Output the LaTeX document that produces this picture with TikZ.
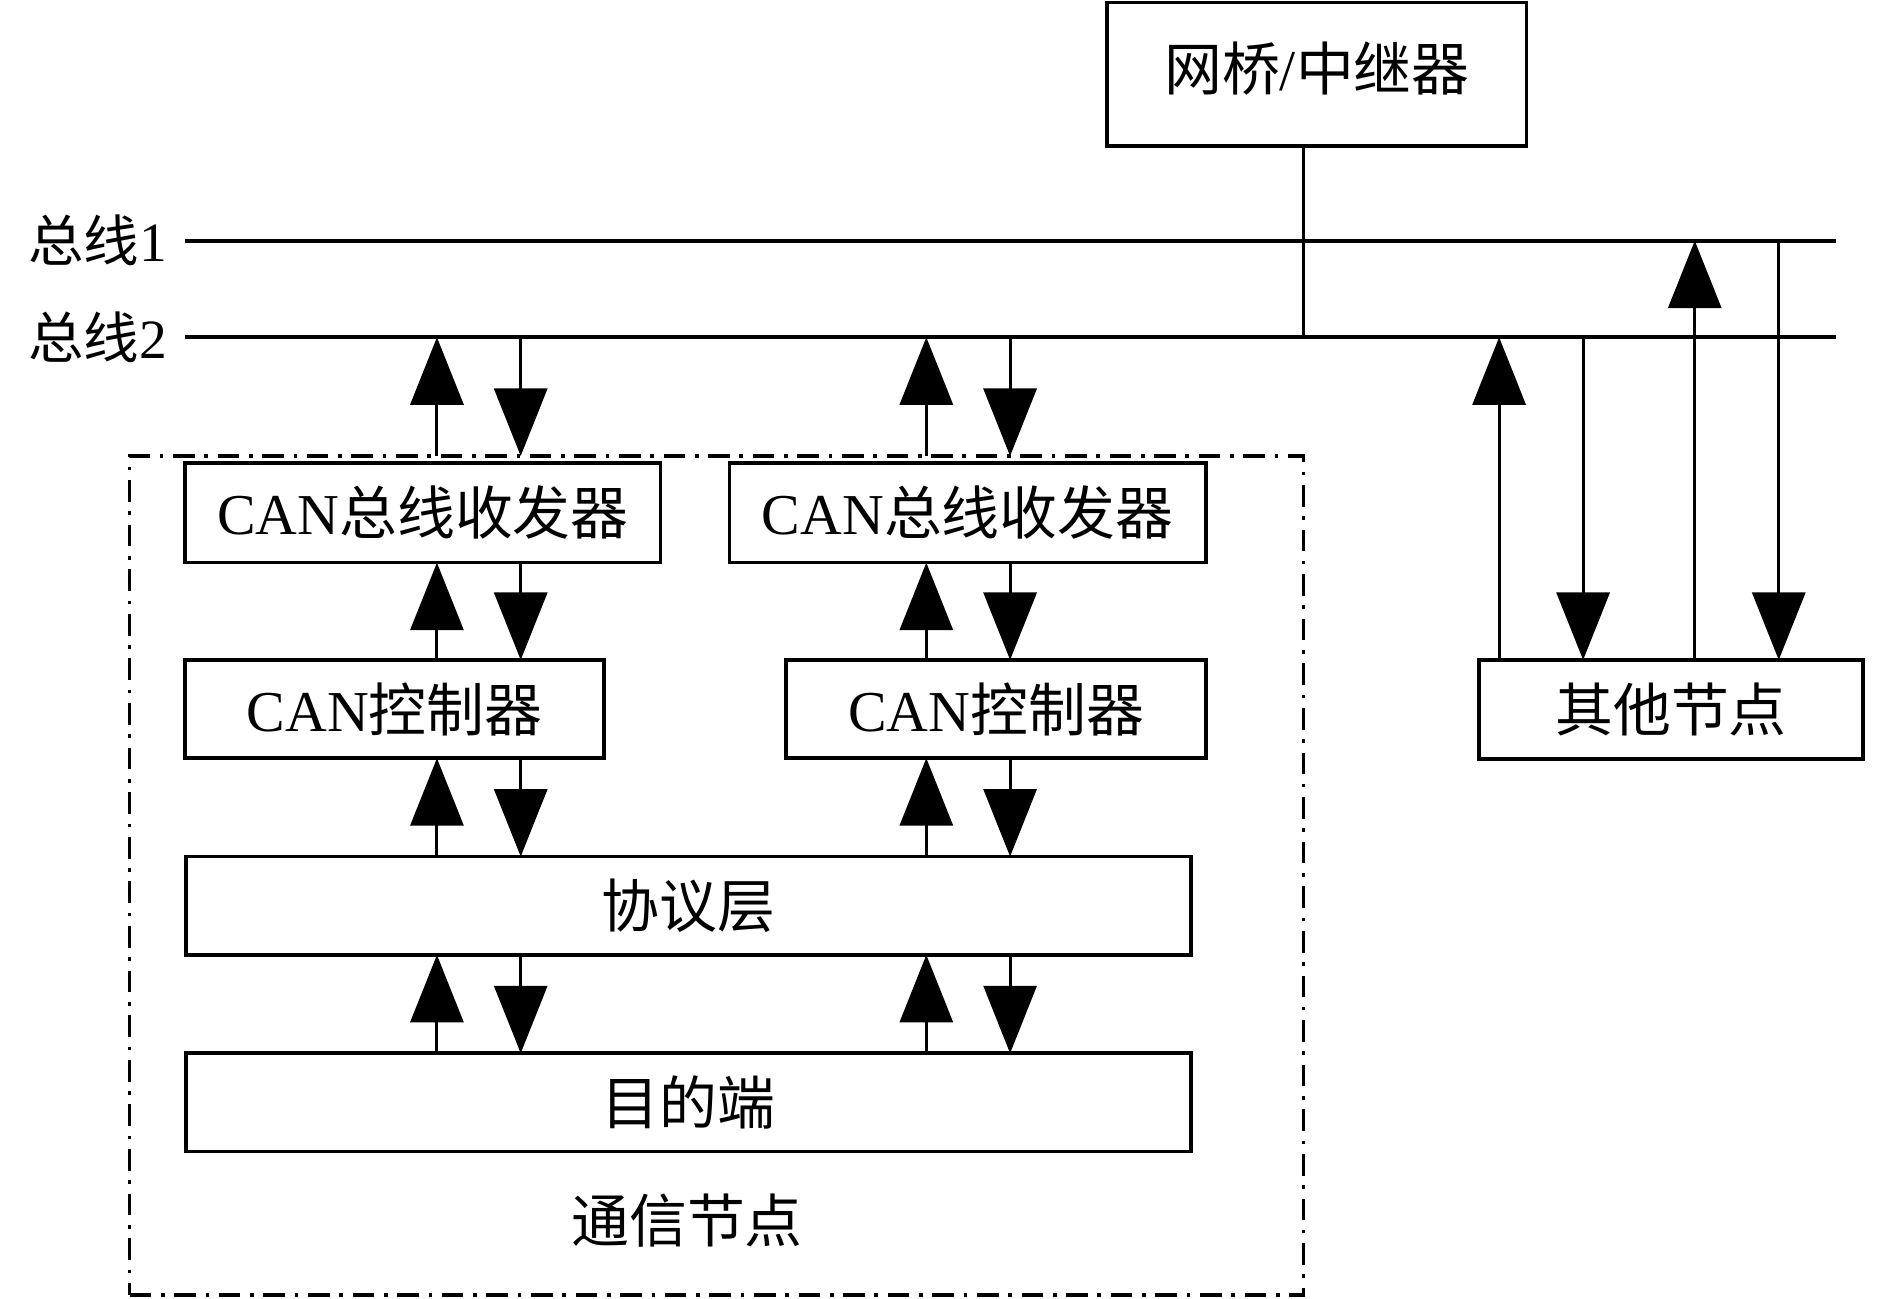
\documentclass[tikz,border=0pt]{standalone}
\usepackage{fontspec}
\setmainfont{Liberation Serif}
\newfontfamily\cjk{Noto Sans CJK SC}
\usetikzlibrary{arrows.meta}
\newcommand\bigfs{\fontsize{48pt}{56pt}\selectfont}
\newcommand\labfs{\fontsize{46pt}{54pt}\selectfont}
\begin{document}
\begin{tikzpicture}[x=1pt,y=-1pt,
  box/.style={draw, line width=3pt, inner sep=0pt, outer sep=0pt, anchor=north west, font=\bigfs},
  dashbox/.style={draw, line width=2.7pt, inner sep=0pt, outer sep=0pt, anchor=north west,
    dash pattern=on 18pt off 8pt on 3pt off 8pt},
  busline/.style={line width=3pt},
  vline/.style={line width=2.5pt},
  ar/.style={line width=2.5pt, -{Triangle[length=56pt,width=44pt]}},
  lab/.style={inner sep=0pt, outer sep=0pt, font=\labfs},
  txt/.style={inner sep=0pt, outer sep=0pt, font=\bigfs}]
\useasboundingbox (0,0) rectangle (1568,1076.9);

% column and bus coordinates
\coordinate (xl1) at (362.5,0);
\coordinate (xl2) at (432,0);
\coordinate (xr1) at (768.5,0);
\coordinate (xr2) at (838,0);
\coordinate (xo1) at (1243.7,0);
\coordinate (xo2) at (1313.4,0);
\coordinate (xo3) at (1406,0);
\coordinate (xo4) at (1475.7,0);
\coordinate (xbr) at (1081.5,0);
\coordinate (b1w) at (153.7,199.7);
\coordinate (b1e) at (1522.8,199.7);
\coordinate (b2w) at (153.7,279.8);
\coordinate (b2e) at (1522.8,279.8);

% dashed communication node frame
\node[dashbox, minimum width=974pt, minimum height=696pt] (comm) at (107.5,378.3) {};

% boxes
\node[box, minimum width=347.9pt, minimum height=119pt, text height=40pt, text depth=13pt] (br) at (918.6,2) {{\cjk 网桥}/{\cjk 中继器}};
\node[box, minimum width=394.3pt, minimum height=82.5pt] (t1) at (153.7,384.3) {CAN{\cjk 总线收发器}};
\node[box, minimum width=395.2pt, minimum height=82.5pt] (t2) at (605.2,384.3) {CAN{\cjk 总线收发器}};
\node[box, minimum width=347.3pt, minimum height=81.5pt] (c1) at (153.7,547.5) {CAN{\cjk 控制器}};
\node[box, minimum width=348.2pt, minimum height=81.5pt] (c2) at (652.2,547.5) {CAN{\cjk 控制器}};
\node[box, minimum width=834.1pt, minimum height=81.6pt] (p) at (154.1,710.6) {{\cjk 协议层}};
\node[box, minimum width=834.1pt, minimum height=81.6pt] (d) at (154.1,873.8) {{\cjk 目的端}};
\node[box, minimum width=318.6pt, minimum height=82.4pt] (o) at (1227.1,547.5) {{\cjk 其他节点}};

% labels
\node[lab, anchor=east] (l1) at (138.5,199.7) {{\cjk 总线}1};
\node[lab, anchor=east] (l2) at (138.5,279.8) {{\cjk 总线}2};
\node[txt] (cn) at (570,1013) {{\cjk 通信节点}};

% buses
\draw[busline] (b1w) -- (b1e);
\draw[busline] (b2w) -- (b2e);
\draw[vline] (br.south -| xbr) -- (b2w -| xbr);

% left column
\draw[ar] (comm.north -| xl1) -- (b2w -| xl1);
\draw[ar] (b2w -| xl2) -- (comm.north -| xl2);
\draw[ar] (c1.north -| xl1) -- (t1.south -| xl1);
\draw[ar] (t1.south -| xl2) -- (c1.north -| xl2);
\draw[ar] (p.north -| xl1) -- (c1.south -| xl1);
\draw[ar] (c1.south -| xl2) -- (p.north -| xl2);
\draw[ar] (d.north -| xl1) -- (p.south -| xl1);
\draw[ar] (p.south -| xl2) -- (d.north -| xl2);

% right column
\draw[ar] (comm.north -| xr1) -- (b2w -| xr1);
\draw[ar] (b2w -| xr2) -- (comm.north -| xr2);
\draw[ar] (c2.north -| xr1) -- (t2.south -| xr1);
\draw[ar] (t2.south -| xr2) -- (c2.north -| xr2);
\draw[ar] (p.north -| xr1) -- (c2.south -| xr1);
\draw[ar] (c2.south -| xr2) -- (p.north -| xr2);
\draw[ar] (d.north -| xr1) -- (p.south -| xr1);
\draw[ar] (p.south -| xr2) -- (d.north -| xr2);

% other nodes
\draw[ar] (o.north -| xo1) -- (b2w -| xo1);
\draw[ar] (b2w -| xo2) -- (o.north -| xo2);
\draw[ar] (o.north -| xo3) -- (b1w -| xo3);
\draw[ar] (b1w -| xo4) -- (o.north -| xo4);
\end{tikzpicture}
\end{document}
